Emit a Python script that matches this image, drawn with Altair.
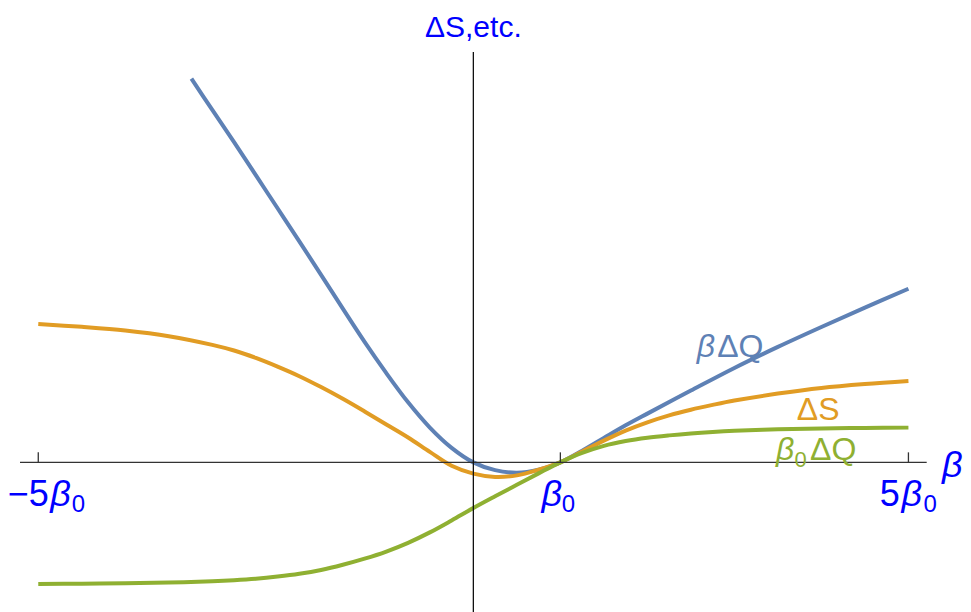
import altair as alt
import pandas as pd

# ---------------- data ----------------
beta = [-5, -4.5, -4, -3.5, -3, -2.75, -2.5, -2.25, -2, -1.75, -1.5, -1.25, -1, -0.75, -0.5, -0.25, 0,
        0.25, 0.5, 0.75, 1, 1.25, 1.5, 1.75, 2, 2.25, 2.5, 2.75, 3, 3.5, 4, 4.5, 5]
delta_s = [1.590, 1.557, 1.515, 1.450, 1.350, 1.285, 1.200, 1.100, 0.990, 0.865, 0.730, 0.585, 0.435, 0.285,
           0.120, -0.040, -0.130, -0.168, -0.150, -0.085, 0.0, 0.125, 0.250, 0.365, 0.460, 0.540, 0.605,
           0.660, 0.710, 0.790, 0.855, 0.900, 0.935]
beta0_dq = [-1.397, -1.394, -1.390, -1.382, -1.367, -1.355, -1.338, -1.313, -1.281, -1.237, -1.177, -1.107,
            -1.025, -0.925, -0.805, -0.668, -0.525, -0.390, -0.258, -0.127, 0.0, 0.108, 0.190, 0.245, 0.283,
            0.310, 0.332, 0.349, 0.362, 0.379, 0.389, 0.395, 0.399]
beta_bq = [-3.24, -3, -2.75, -2.5, -2.25, -2, -1.75, -1.5, -1.25, -1, -0.75, -0.5, -0.25, 0,
           0.25, 0.5, 0.75, 1, 1.25, 1.5, 1.75, 2, 2.5, 3, 3.5, 4, 4.5, 5]
beta_dq = [4.41, 4.05, 3.68, 3.30, 2.92, 2.54, 2.155, 1.766, 1.384, 1.025, 0.690, 0.400, 0.167, 0.0,
           -0.090, -0.120, -0.085, 0.0, 0.133, 0.280, 0.425, 0.560, 0.825, 1.085, 1.327, 1.556, 1.778, 1.995]

series_names = ["bdq", "ds", "b0dq"]
series_colors = ["#5E81B5", "#E19C24", "#8FB032"]

tick_values = [-5, 1, 5]
tick_coeffs = ["\u22125", "", "5"]

axis_color = "#0000FF"
font = "Liberation Sans"

# ---------------- scales ----------------
W, H = 906.7, 560
xs = alt.Scale(domain=[-5.21, 5.21], nice=False, zero=False)
ys = alt.Scale(domain=[-1.72, 4.716], nice=False, zero=False)

df = pd.concat([
    pd.DataFrame({"beta": beta_bq, "value": beta_dq, "series": "bdq"}),
    pd.DataFrame({"beta": beta, "value": delta_s, "series": "ds"}),
    pd.DataFrame({"beta": beta, "value": beta0_dq, "series": "b0dq"}),
])

lines = alt.Chart(df).mark_line(strokeWidth=4, interpolate="catmull-rom").encode(
    x=alt.X("beta:Q", scale=xs, axis=None),
    y=alt.Y("value:Q", scale=ys, axis=None),
    color=alt.Color("series:N", scale=alt.Scale(domain=series_names, range=series_colors), legend=None),
)

zero_df = pd.DataFrame({"v": [0]})
hline = alt.Chart(zero_df).mark_rule(color="#333333", strokeWidth=1.3).encode(
    y=alt.Y("v:Q", scale=ys, axis=None))
vline = alt.Chart(zero_df).mark_rule(color="#111111", strokeWidth=1.3).encode(
    x=alt.X("v:Q", scale=xs, axis=None))

tick_df = pd.DataFrame({"t": tick_values, "z": [0] * len(tick_values)})
ticks = alt.Chart(tick_df).mark_rule(color="#333333", strokeWidth=1.3, y2Offset=-10).encode(
    x=alt.X("t:Q", scale=xs, axis=None),
    y=alt.Y("z:Q", scale=ys, axis=None),
    y2="z:Q",
)


def txt(xv, yv, text, color, size, dx=0, dy=0, italic=False, align="left"):
    d = pd.DataFrame({"x": [xv], "y": [yv], "t": [text]})
    return alt.Chart(d).mark_text(
        font=font, fontSize=size, fontStyle="italic" if italic else "normal",
        color=color, align=align, baseline="alphabetic", dx=dx, dy=dy,
    ).encode(
        x=alt.X("x:Q", scale=xs, axis=None),
        y=alt.Y("y:Q", scale=ys, axis=None),
        text="t:N",
    )


layers = [lines, hline, vline, ticks]

# tick labels: coefficient, italic beta, subscript 0
tick_layout = {  # dx of (coef right edge, beta centre, subscript left)
    -5: (10.5, 22.3, 33.6),
    1: (0, -8.6, 1.4),
    5: (-8.6, 3.4, 15.0),
}
for tv, coef in zip(tick_values, tick_coeffs):
    c_dx, b_dx, s_dx = tick_layout[tv]
    if coef:
        layers.append(txt(tv, 0, coef, axis_color, 36, dx=c_dx, dy=43.7, align="right"))
    layers.append(txt(tv, 0, "\u03b2", axis_color, 36, dx=b_dx, dy=43.7, italic=True, align="center"))
    layers.append(txt(tv, 0, "0", axis_color, 24, dx=s_dx, dy=50, align="left"))

# axis labels
layers.append(txt(0, 4.888, "\u0394S,etc.", axis_color, 30, align="center"))
layers.append(txt(5.386, 0, "\u03b2", axis_color, 36, dy=14.7, italic=True))

# curve labels
layers.append(txt(2.567, 1.21, "\u03b2", series_colors[0], 32, italic=True))
layers.append(txt(2.567, 1.21, "\u0394Q", series_colors[0], 32, dx=20.5))
layers.append(txt(3.717, 0.486, "\u0394S", series_colors[1], 32))
layers.append(txt(3.479, 0.026, "\u03b2", series_colors[2], 32, italic=True))
layers.append(txt(3.479, 0.026, "0", series_colors[2], 22, dx=18.5, dy=6.5))
layers.append(txt(3.479, 0.026, "\u0394Q", series_colors[2], 32, dx=34))

chart = alt.layer(*layers).properties(
    width=W, height=H,
    autosize=alt.AutoSizeParams(type="none"),
    padding={"left": 12, "top": 44, "right": 36.3, "bottom": 0},
).configure_view(stroke=None)

chart.save("out.html", embed_options={"renderer": "svg", "actions": False})
